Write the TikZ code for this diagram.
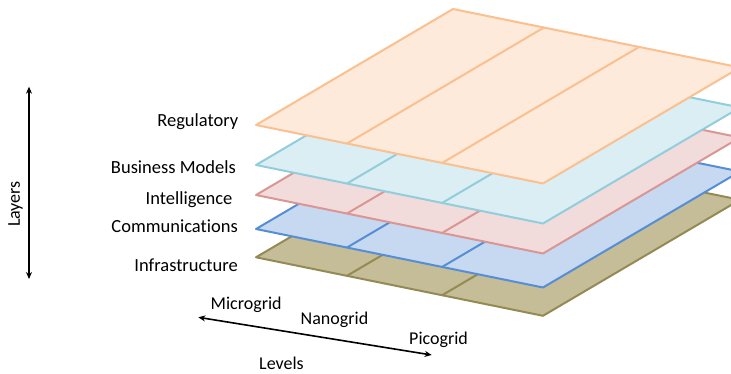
\documentclass[tikz,border=0pt]{standalone}
\usepackage{fontspec}
\setmainfont{Carlito}[Ligatures={NoCommon,NoContextual}]
\usetikzlibrary{arrows.meta}
\definecolor{regD}{HTML}{FAC090}\definecolor{regF}{HTML}{FDEADA}
\definecolor{busD}{HTML}{92CDDC}\definecolor{busF}{HTML}{DAEEF3}
\definecolor{intD}{HTML}{D99694}\definecolor{intF}{HTML}{F2DCDB}
\definecolor{comD}{HTML}{558ED5}\definecolor{comF}{HTML}{C6D9F1}
\definecolor{infD}{HTML}{948A54}\definecolor{infF}{HTML}{C4BD97}
\tikzset{
  lbl/.style={inner sep=0pt, font=\fontsize{18.5}{22}\selectfont, anchor=base east},
  lvl/.style={inner sep=0pt, font=\fontsize{18}{22}\selectfont, anchor=base west},
  axis/.style={line width=1.6pt, {Stealth[length=7pt,width=6pt]}-{Stealth[length=7pt,width=6pt]}},
  plate/.style={line width=2pt, line join=round},
}
\newcommand\drawplate[3]{%
  % #1 = y of left corner, #2 = draw colour, #3 = fill colour
  \begin{scope}[shift={(256,#1)}]
    \filldraw[plate, draw=#2, fill=#3] (0,0) -- (287,58.5) -- (484,-57.5) -- (197,-116) -- cycle;
    \draw[plate, draw=#2] (91,18.5) -- ++(197,-116);
    \draw[plate, draw=#2] (186,38) -- ++(197,-116);
  \end{scope}}
\begin{document}
\begin{tikzpicture}[x=1pt,y=-1pt]
\useasboundingbox (0,0) rectangle (731,374);
\begin{scope}
\clip (0,0) rectangle (731,374);
\drawplate{257.3}{infD}{infF}
\drawplate{229}{comD}{comF}
\drawplate{195}{intD}{intF}
\drawplate{165}{busD}{busF}
\drawplate{125}{regD}{regF}
\end{scope}
\node[lbl] (reg) at (238.5,126.7) {Regulatory};
\node[lbl] (bus) at (236,174) {Business Models};
\node[lbl] (int) at (232.5,204.3) {Intelligence};
\node[lbl] (com) at (238,232.7) {Communications};
\node[lbl] (inf) at (238,271) {Infrastructure};
\coordinate (ltop) at (29,86.7);
\coordinate (lbot) at (29,279);
\draw[axis] (lbot) -- (ltop);
\node[inner sep=0pt, rotate=90, font=\fontsize{18}{22}\selectfont] (layers) at (15.5,204) {Layers};
\coordinate (lvL) at (198.3,317.3);
\coordinate (lvR) at (431.7,355);
\draw[axis] (lvL) -- (lvR);
\node[lvl] (micro) at (210.5,309) {Microgrid};
\node[lvl] (nano) at (300.5,324) {Nanogrid};
\node[lvl] (pico) at (409,344) {Picogrid};
\node[lvl] (levels) at (259,369) {Levels};
\end{tikzpicture}
\end{document}
